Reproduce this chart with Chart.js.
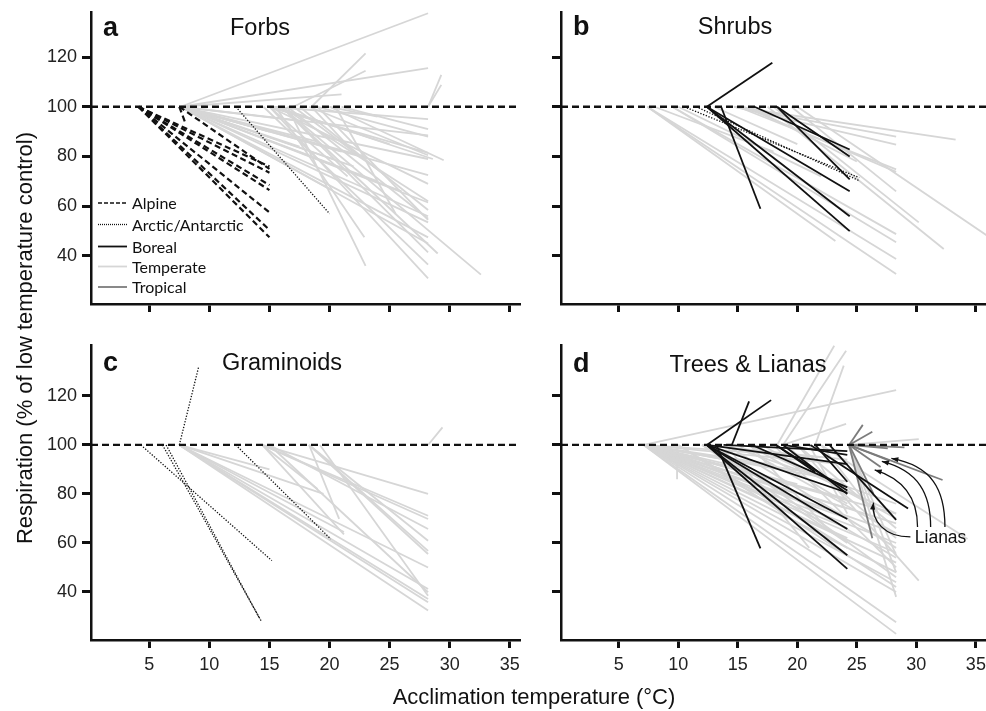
<!DOCTYPE html>
<html>
<head>
<meta charset="utf-8">
<script src="https://cdn.jsdelivr.net/npm/chart.js@4.4.1/dist/chart.umd.min.js"></script>
<style>
    html, body { margin: 0; padding: 0; background: #fff; }
    #page { position: relative; width: 986px; height: 711px; overflow: hidden;
            font-family: "Liberation Sans", Arial, sans-serif; color: #111; }
    canvas { position: absolute; }
    .txt { position: absolute; white-space: nowrap; line-height: 1; }
    .letter { font-weight: bold; font-size: 27px; }
    .title { font-size: 23.5px; width: 400px; text-align: center; }
    .axis-title { font-size: 22px; width: 600px; text-align: center; }
</style>
</head>
<body>
<div id="page">
    <canvas id="panel-a" width="525" height="330" style="left:0;top:0"></canvas>
    <canvas id="panel-b" width="461" height="330" style="left:525px;top:0"></canvas>
    <canvas id="panel-c" width="525" height="381" style="left:0;top:330px"></canvas>
    <canvas id="panel-d" width="461" height="381" style="left:525px;top:330px"></canvas>

    <div class="txt letter" style="left:103px;top:13.6px">a</div>
    <div class="txt letter" style="left:573px;top:13.1px">b</div>
    <div class="txt letter" style="left:103px;top:349.1px">c</div>
    <div class="txt letter" style="left:573px;top:350.1px">d</div>

    <div class="txt title" style="left:60px;top:16.1px">Forbs</div>
    <div class="txt title" style="left:535px;top:15.1px">Shrubs</div>
    <div class="txt title" style="left:82px;top:351.1px">Graminoids</div>
    <div class="txt title" style="left:548px;top:352.6px">Trees &amp; Lianas</div>

    <div class="txt axis-title" style="left:234px;top:686.4px">Acclimation temperature (°C)</div>
    <div class="txt axis-title" style="left:-274.6px;top:327px;transform:rotate(-90deg)">Respiration (% of low temperature control)</div>
</div>
<script>
(function () {
    'use strict';

    // each segment: [low temperature, acclimation temperature, respiration %]
    // the start point always sits on the control level
    var controlLevel = 100,
        xTicks = [5, 10, 15, 20, 25, 30, 35],
        yTicks = [40, 60, 80, 100, 120],
        xRange = [0.15, 35.85],
        yRangeTop = [20.7, 138.1],
        yRangeBottom = [20.4, 140.8],
        legendLabels = ['Alpine', 'Arctic/Antarctic', 'Boreal', 'Temperate', 'Tropical'];

    var forbsAlpine = [
        [4.1, 15, 76], [4.1, 15, 73.5], [4.1, 15, 68.5], [4.1, 15, 66.5],
        [4.1, 15, 57.5], [4.1, 15, 50.5], [4.1, 15, 47.5], [7.5, 15, 75], [7.5, 8, 93.5]
    ];
    var forbsArctic = [[12.2, 20, 57]];
    var forbsTemperate = [
        [7.6, 28.2, 137.6], [7.6, 28.2, 115.5], [7.6, 21, 105], [7.6, 28.2, 88.5],
        [7.6, 28.2, 72.5], [7.6, 28.2, 61.5], [7.6, 28.2, 56], [7.6, 28.2, 53.5],
        [7.6, 28.2, 47.5], [7.6, 28.2, 45], [7.6, 20, 67], [7.6, 17.5, 84],
        [7.6, 22, 76], [7.6, 24, 70], [7.6, 15, 90], [7.6, 20.3, 79],
        [7.6, 21, 82], [7.6, 19, 86], [7.6, 23, 80], [7.6, 18, 94],
        [7.6, 26, 66], [7.6, 28.2, 79], [15, 28.2, 95],
        [15, 28.2, 81.5], [15.5, 28.6, 79], [15, 28.2, 69], [14.5, 28.2, 36.5],
        [16.5, 23, 36], [15.5, 22.9, 47.5], [16, 29, 41], [16, 32.6, 32.5],
        [15, 28.2, 31], [16, 28.2, 41.5], [16.5, 28.2, 55], [15, 20.5, 92],
        [15.5, 25, 85], [15, 21.5, 72], [16, 28.2, 62], [17, 24.5, 73],
        [18.5, 23, 121.5], [17, 23, 114.5], [18.3, 28.2, 80.5], [19, 28.2, 88],
        [20, 29.5, 78.5], [20.5, 25.5, 57], [19, 28.2, 54.5], [20, 24, 96],
        [18.5, 22, 82], [17.5, 28.2, 58.5], [21, 28.2, 91], [28.2, 29.3, 112.8],
        [28.2, 29.3, 108.8]
    ];

    var shrubsBoreal = [
        [12.4, 17.9, 117.7], [13.6, 16.9, 59], [16.4, 24.4, 82.8], [18.3, 24.4, 80],
        [18.3, 24.4, 70.8], [12.4, 24.4, 66], [12.4, 24.4, 56], [12.4, 24.4, 50]
    ];
    var shrubsArctic = [[10.5, 25.2, 71.5], [11.5, 25.2, 70.3]];
    var shrubsTemperate = [
        [7.4, 23.2, 46], [7.4, 28.3, 38.8], [7.4, 28.3, 32.8], [9.5, 28.3, 48.8],
        [9.5, 28.3, 45.5], [10, 22, 72], [14.7, 28.3, 88], [14.7, 28.3, 84.8],
        [14.7, 33.3, 86.8], [15, 28.3, 74.8], [15.5, 28.3, 73.8], [18, 30.2, 53.5],
        [17.5, 32.3, 42.8], [20, 36, 48], [8, 18, 82], [16, 25, 78],
        [13, 20, 85], [19.5, 28.3, 66]
    ];

    var gramArctic = [
        [7.5, 9.1, 131.7], [4.3, 15.2, 52.8], [6.1, 14.3, 28.3], [6.4, 14.2, 29],
        [12.2, 20.1, 61.6]
    ];
    var gramTemperate = [
        [7.5, 28.2, 32.4], [7.5, 28.2, 35.8], [7.5, 28.2, 37.1], [7.5, 28.2, 41.2],
        [7.5, 21.2, 64.5], [7.5, 28.2, 50], [7.5, 19.5, 80], [7.5, 15, 90],
        [14.4, 28.2, 80], [14.4, 28.2, 71.1], [14.4, 21.2, 63.5], [14.4, 28.2, 69.8],
        [15, 28.2, 65.7], [18.3, 28.2, 60.9], [18.3, 28.2, 56.8], [18.3, 28.2, 55.5],
        [19.2, 28.2, 38.5], [18.3, 20.8, 69.8], [14.4, 19, 82], [15, 28.2, 39.9],
        [28.2, 29.4, 107.2]
    ];

    var treesBoreal = [
        [12.4, 17.8, 118.3], [14.5, 15.95, 117.8], [13.2, 16.9, 57.8], [12.4, 24.2, 92.2],
        [12.4, 24.2, 80.5], [12.4, 24.2, 69.8], [12.4, 24.2, 65.7], [12.4, 24.2, 55],
        [12.4, 24.2, 49.4], [16.2, 24.2, 82.7], [18.2, 24.2, 81.4], [18.8, 24.2, 80],
        [18.8, 24.2, 96], [21.1, 29.3, 74.1], [22.7, 28.3, 69.4], [18.2, 21.5, 89],
        [21.5, 24.2, 85], [13.8, 24.2, 97.5]
    ];
    var treesTropical = [
        [24.35, 26.3, 105.4], [24.35, 25.5, 108.2], [24.35, 32.2, 85.7], [24.35, 26.3, 61.9],
        [24.35, 27.6, 98.6], [24.35, 26.4, 80], [24.35, 27, 91], [24.35, 27.8, 93.5],
        [24.35, 29, 99]
    ];
    var treesTemperate = [
        [7.1, 28.3, 122.4], [7.1, 28.3, 22.9], [7.1, 28.3, 27.6], [7.1, 28.3, 40],
        [7.1, 28.3, 44], [7.1, 28.3, 48], [7.1, 28.3, 52], [7.1, 28.3, 56],
        [7.1, 28.3, 60], [7.1, 28.3, 64], [7.1, 28.3, 68], [7.1, 28.3, 72],
        [7.1, 24.2, 62], [7.1, 24.2, 66], [7.1, 24.2, 70], [7.1, 24.2, 74],
        [7.1, 24.2, 78], [7.1, 21, 76], [7.1, 20, 80], [7.1, 20, 84],
        [7.1, 22, 88], [7.1, 18, 86], [7.1, 18, 92], [7.1, 24.2, 85],
        [7.1, 24.2, 92], [7.1, 22, 95], [7.1, 22, 54], [7.1, 16, 90],
        [7.1, 14, 94], [9.9, 9.9, 86], [10, 28.3, 42], [10, 24.2, 58],
        [12, 28.3, 54], [12, 24.2, 94], [13, 28.3, 46], [14, 28.3, 58],
        [14, 28.3, 76], [15, 28.3, 64], [16, 24.2, 76], [16, 28.3, 72],
        [14, 21, 58], [18.3, 23.1, 140.5], [18.8, 24.1, 138.5], [21.5, 23.9, 132.4],
        [18.8, 24.1, 108.6], [24.3, 30.2, 102.4], [20, 30.2, 44.6], [22, 34.3, 61.6],
        [18, 28.3, 50], [20, 28.3, 66], [24.3, 28.3, 48], [24.3, 28.3, 55],
        [22, 26, 75], [17, 28.3, 70], [19, 28.3, 62], [21, 24.2, 72],
        [16, 22.5, 66], [24.3, 28.3, 38], [12, 24.2, 60]
    ];

    // curved pointers for the liana label: start, control 1, control 2, tip
    var lianaArrows = [
        [[29.5, 62.5], [27.3, 62.5], [26.2, 69], [26.4, 76.5]],
        [[30.1, 66.5], [30.1, 78], [29, 86], [26.5, 89.8]],
        [[31.2, 66.5], [31.2, 80], [30.2, 89.5], [27.1, 93.3]],
        [[32.4, 66.5], [32.4, 82], [31.3, 91.5], [27.9, 94.5]]
    ];
    var lianaLabel = { text: 'Lianas', x: 29.7, y: 62 };

    var styles = {
        alpine: { color: '#111', width: 2.2, dash: [6, 3.5], order: 2 },
        arctic: { color: '#111', width: 1.3, dash: [1.3, 1.6], order: 3 },
        boreal: { color: '#111', width: 1.8, dash: [], order: 2 },
        temperate: { color: '#d6d6d6', width: 1.8, dash: [], order: 6 },
        tropical: { color: '#7c7c7c', width: 1.8, dash: [], order: 5 },
        control: { color: '#111', width: 2.3, dash: [7, 4], order: 4 }
    };
    var legendKeys = ['alpine', 'arctic', 'boreal', 'temperate', 'tropical'];

    var lineDataset = function (points, style) {
            return {
                data: points,
                borderColor: style.color,
                borderWidth: style.width,
                borderDash: style.dash,
                borderCapStyle: 'butt',
                pointRadius: 0,
                pointHoverRadius: 0,
                fill: false,
                tension: 0,
                order: style.order
            };
        },

        toDatasets = function (segments, style) {
            return segments.map(function (s) {
                return lineDataset([{ x: s[0], y: controlLevel }, { x: s[1], y: s[2] }], style);
            });
        },

        controlDataset = function () {
            return lineDataset([{ x: xRange[0], y: controlLevel }, { x: xRange[1], y: controlLevel }], styles.control);
        },

        // the chart area is pinned, so labels must not push it around
        noPadding = function (scale) {
            scale.paddingTop = 0;
            scale.paddingBottom = 0;
            scale.paddingLeft = 0;
            scale.paddingRight = 0;
        },

        legendPlugin = {
            id: 'biomeLegend',
            afterDatasetsDraw: function (chart) {
                var ctx = chart.ctx,
                    rows = [203, 224.5, 246.5, 266.5, 287];

                ctx.save();
                legendKeys.forEach(function (key, i) {
                    var st = styles[key];
                    ctx.strokeStyle = st.color;
                    ctx.lineWidth = key === 'alpine' ? 1.6 : st.width;
                    ctx.setLineDash(key === 'alpine' ? [4, 2] : key === 'arctic' ? [1, 1] : []);
                    ctx.beginPath();
                    ctx.moveTo(98, rows[i]);
                    ctx.lineTo(127, rows[i]);
                    ctx.stroke();
                });
                ctx.setLineDash([]);
                ctx.fillStyle = '#111';
                ctx.font = '16px Lato, "Open Sans", sans-serif';
                ctx.textBaseline = 'middle';
                ctx.textAlign = 'left';
                legendLabels.forEach(function (label, i) {
                    ctx.fillText(label, 132, rows[i] + 1);
                });
                ctx.restore();
            }
        },

        lianaPlugin = {
            id: 'lianaPointers',
            afterDatasetsDraw: function (chart) {
                var ctx = chart.ctx,
                    sx = chart.scales.x,
                    sy = chart.scales.y,
                    px = function (p) { return [sx.getPixelForValue(p[0]), sy.getPixelForValue(p[1])]; };

                ctx.save();
                ctx.strokeStyle = '#111';
                ctx.fillStyle = '#111';
                ctx.lineWidth = 1.3;
                lianaArrows.forEach(function (a) {
                    var p0 = px(a[0]), c1 = px(a[1]), c2 = px(a[2]), tip = px(a[3]),
                        ang = Math.atan2(tip[1] - c2[1], tip[0] - c2[0]),
                        len = 7, half = 2.6;

                    ctx.beginPath();
                    ctx.moveTo(p0[0], p0[1]);
                    ctx.bezierCurveTo(c1[0], c1[1], c2[0], c2[1], tip[0], tip[1]);
                    ctx.stroke();

                    ctx.beginPath();
                    ctx.moveTo(tip[0], tip[1]);
                    ctx.lineTo(tip[0] - len * Math.cos(ang) + half * Math.sin(ang),
                               tip[1] - len * Math.sin(ang) - half * Math.cos(ang));
                    ctx.lineTo(tip[0] - len * Math.cos(ang) - half * Math.sin(ang),
                               tip[1] - len * Math.sin(ang) + half * Math.cos(ang));
                    ctx.closePath();
                    ctx.fill();
                });
                ctx.font = '17.5px "Liberation Sans", Arial, sans-serif';
                ctx.textBaseline = 'middle';
                ctx.textAlign = 'left';
                var t = px([lianaLabel.x, lianaLabel.y]);
                ctx.fillText(lianaLabel.text, t[0] + 2, t[1]);
                ctx.restore();
            }
        },

        axisFont = { family: '"Liberation Sans", Arial, sans-serif', size: 18 },

        makePanel = function (id, cfg) {
            var canvas = document.getElementById(id);

            return new Chart(canvas.getContext('2d'), {
                type: 'line',
                data: { datasets: cfg.datasets },
                options: {
                    responsive: false,
                    animation: false,
                    devicePixelRatio: 1,
                    events: [],
                    layout: { padding: { top: cfg.padTop, right: cfg.padRight, left: 0, bottom: 0 } },
                    plugins: { legend: { display: false }, tooltip: { enabled: false } },
                    scales: {
                        x: {
                            type: 'linear',
                            min: xRange[0],
                            max: xRange[1],
                            afterBuildTicks: function (scale) {
                                scale.ticks = xTicks.map(function (v) { return { value: v }; });
                            },
                            afterFit: function (scale) {
                                scale.height = cfg.xHeight;
                                noPadding(scale);
                            },
                            ticks: {
                                display: cfg.xLabels,
                                autoSkip: false,
                                maxRotation: 0,
                                padding: 6,
                                color: '#222',
                                font: axisFont
                            },
                            grid: { drawOnChartArea: false, drawTicks: true, tickLength: 8, tickWidth: 3, tickColor: '#111' },
                            border: { display: true, color: '#111', width: 2.5 }
                        },
                        y: {
                            type: 'linear',
                            min: cfg.yRange[0],
                            max: cfg.yRange[1],
                            afterBuildTicks: function (scale) {
                                scale.ticks = yTicks.map(function (v) { return { value: v }; });
                            },
                            afterFit: function (scale) {
                                scale.width = cfg.yWidth;
                                noPadding(scale);
                            },
                            ticks: {
                                display: cfg.yLabels,
                                autoSkip: false,
                                padding: 5,
                                color: '#222',
                                font: axisFont
                            },
                            grid: { drawOnChartArea: false, drawTicks: true, tickLength: 9, tickWidth: 3, tickColor: '#111' },
                            border: { display: true, color: '#111', width: 2.5 }
                        }
                    }
                },
                plugins: cfg.plugins || []
            });
        };

    makePanel('panel-a', {
        datasets: [controlDataset()]
            .concat(toDatasets(forbsTemperate, styles.temperate))
            .concat(toDatasets(forbsArctic, styles.arctic))
            .concat(toDatasets(forbsAlpine, styles.alpine)),
        padTop: 12, padRight: 5, xHeight: 26, yWidth: 91,
        xLabels: false, yLabels: true, yRange: yRangeTop,
        plugins: [legendPlugin]
    });

    makePanel('panel-b', {
        datasets: [controlDataset()]
            .concat(toDatasets(shrubsTemperate, styles.temperate))
            .concat(toDatasets(shrubsArctic, styles.arctic))
            .concat(toDatasets(shrubsBoreal, styles.boreal)),
        padTop: 12, padRight: 0, xHeight: 26, yWidth: 36,
        xLabels: false, yLabels: false, yRange: yRangeTop
    });

    makePanel('panel-c', {
        datasets: [controlDataset()]
            .concat(toDatasets(gramTemperate, styles.temperate))
            .concat(toDatasets(gramArctic, styles.arctic)),
        padTop: 15, padRight: 5, xHeight: 71, yWidth: 91,
        xLabels: true, yLabels: true, yRange: yRangeBottom
    });

    makePanel('panel-d', {
        datasets: [controlDataset()]
            .concat(toDatasets(treesTemperate, styles.temperate))
            .concat(toDatasets(treesTropical, styles.tropical))
            .concat(toDatasets(treesBoreal, styles.boreal)),
        padTop: 15, padRight: 0, xHeight: 71, yWidth: 36,
        xLabels: true, yLabels: false, yRange: yRangeBottom,
        plugins: [lianaPlugin]
    });
}());
</script>
</body>
</html>
